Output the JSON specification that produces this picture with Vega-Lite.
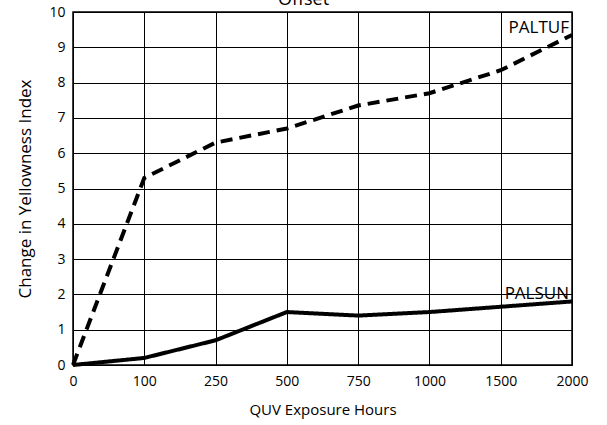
{
  "$schema": "https://vega.github.io/schema/vega-lite/v6.json",
  "width": 499,
  "height": 353,
  "autosize": "none",
  "padding": {"left": 73, "top": 12, "right": 35, "bottom": 60},
  "background": "white",
  "title": {"text": "Offset", "fontSize": 18, "offset": -22, "baseline": "bottom", "dx": -19, "font": "Open Sans", "fontWeight": "normal", "color": "black"},
  "config": {
    "font": "Open Sans",
    "view": {"stroke": "black", "strokeWidth": 1.5},
    "axis": {"gridColor": "black", "gridOpacity": 1, "gridWidth": 1, "domain": false, "ticks": false, "labelColor": "black", "titleColor": "black", "labelFont": "Open Sans", "titleFont": "Open Sans", "titleFontWeight": "normal"}
  },
  "datasets": {
    "lines": [
      {"hours": 0, "yi": 0, "product": "PALTUF"},
      {"hours": 100, "yi": 5.3, "product": "PALTUF"},
      {"hours": 250, "yi": 6.3, "product": "PALTUF"},
      {"hours": 500, "yi": 6.7, "product": "PALTUF"},
      {"hours": 750, "yi": 7.35, "product": "PALTUF"},
      {"hours": 1000, "yi": 7.7, "product": "PALTUF"},
      {"hours": 1500, "yi": 8.35, "product": "PALTUF"},
      {"hours": 2000, "yi": 9.35, "product": "PALTUF"},
      {"hours": 0, "yi": 0, "product": "PALSUN"},
      {"hours": 100, "yi": 0.2, "product": "PALSUN"},
      {"hours": 250, "yi": 0.7, "product": "PALSUN"},
      {"hours": 500, "yi": 1.5, "product": "PALSUN"},
      {"hours": 750, "yi": 1.4, "product": "PALSUN"},
      {"hours": 1000, "yi": 1.5, "product": "PALSUN"},
      {"hours": 1500, "yi": 1.65, "product": "PALSUN"},
      {"hours": 2000, "yi": 1.8, "product": "PALSUN"}
    ]
  },
  "data": {"name": "lines"},
  "encoding": {
    "x": {"field": "hours", "type": "ordinal", "scale": {"type": "point", "padding": 0},
      "axis": {"title": "QUV Exposure Hours", "labelAngle": 0, "labelFontSize": 14, "labelPadding": 9, "titleFontSize": 15, "titlePadding": 14, "grid": true}},
    "y": {"field": "yi", "type": "quantitative", "scale": {"domain": [0, 10], "nice": false},
      "axis": {"title": "Change in Yellowness Index", "values": [0,1,2,3,4,5,6,7,8,9,10], "labelFontSize": 14, "labelPadding": 8, "titleFontSize": 17, "titlePadding": 14, "grid": true}}
  },
  "layer": [
    {
      "mark": {"type": "line", "color": "black", "strokeWidth": 4},
      "encoding": {
        "detail": {"field": "product"},
        "strokeDash": {"field": "product", "type": "nominal", "scale": {"domain": ["PALTUF", "PALSUN"], "range": [[12, 7], [1, 0]]}, "legend": null}
      }
    },
    {
      "transform": [{"filter": "datum.hours == 2000"}],
      "mark": {"type": "text", "align": "right", "baseline": "alphabetic", "dx": -3, "fontSize": 17, "fontWeight": 500, "color": "black", "font": "Open Sans"},
      "encoding": {
        "text": {"field": "product"},
        "yOffset": {"condition": {"test": "datum.product == 'PALSUN'", "value": -11}, "value": -2}
      }
    }
  ]
}
